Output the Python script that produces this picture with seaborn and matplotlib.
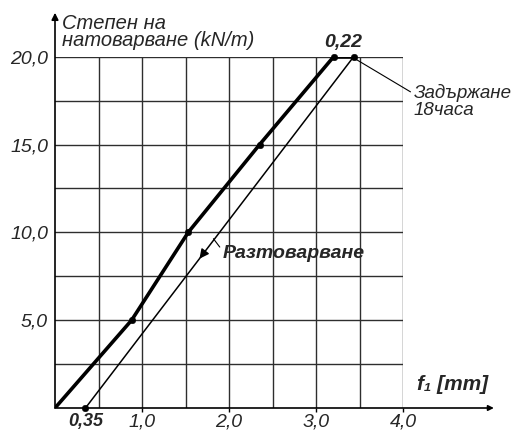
import matplotlib
matplotlib.use("Agg")
import matplotlib.pyplot as plt
import seaborn as sns
import pandas as pd

# loading branch (thick) and unloading branch (thin)
load_f = [0.0, 0.88, 1.53, 2.35, 3.2]
load_p = [0.0, 5.0, 10.0, 15.0, 20.0]
hold_f = [3.2, 3.43]
hold_p = [20.0, 20.0]
unload_f = [3.43, 0.35]
unload_p = [20.0, 0.0]

x_ticks = [1.0, 2.0, 3.0, 4.0]
x_labels = ["1,0", "2,0", "3,0", "4,0"]
y_ticks = [5.0, 10.0, 15.0, 20.0]
y_labels = ["5,0", "10,0", "15,0", "20,0"]


def main():
    sns.set_style("white")
    plt.rcParams["font.family"] = ["Liberation Sans", "DejaVu Sans"]

    fig = plt.figure(figsize=(5.15, 4.3), dpi=100)
    ax = fig.add_axes([55 / 515, 22 / 430, 348.3 / 515, 351.3 / 430])

    # grid
    for gx in [0.5, 1.0, 1.5, 2.0, 2.5, 3.0, 3.5, 4.0]:
        ax.axvline(gx, color="#2e2e2e", lw=1.0, zorder=1)
    for gy in [2.5, 5.0, 7.5, 10.0, 12.5, 15.0, 17.5, 20.0]:
        ax.axhline(gy, color="#2e2e2e", lw=1.0, zorder=1)

    load = pd.DataFrame({"f": load_f, "p": load_p})
    hold = pd.DataFrame({"f": hold_f, "p": hold_p})
    unload = pd.DataFrame({"f": unload_f, "p": unload_p})

    sns.lineplot(data=load, x="f", y="p", sort=False, color="black", lw=2.6, ax=ax, zorder=3)
    sns.lineplot(data=hold, x="f", y="p", sort=False, color="black", lw=2.6, ax=ax, zorder=3)
    sns.lineplot(data=unload, x="f", y="p", sort=False, color="black", lw=1.1, ax=ax, zorder=3)

    dots = pd.DataFrame({
        "f": load_f[1:] + unload_f,
        "p": load_p[1:] + unload_p,
    })
    sns.scatterplot(data=dots, x="f", y="p", color="black", s=22, ax=ax, zorder=4,
                    edgecolor="black", clip_on=False)

    # arrow on unloading line
    fa = unload_f[0] + (unload_f[1] - unload_f[0]) * 0.575
    pa = unload_p[0] + (unload_p[1] - unload_p[0]) * 0.575
    ax.annotate("", xy=(fa, pa), xytext=(fa + 0.04, pa + 0.26),
                arrowprops=dict(arrowstyle="-|>", color="black", lw=1, mutation_scale=14,
                                shrinkA=0, shrinkB=0))

    ax.set_xlim(0, 4.0)
    ax.set_ylim(0, 20.0)
    ax.set_xlabel("")
    ax.set_ylabel("")
    for s in ax.spines.values():
        s.set_visible(False)

    ax.set_xticks(x_ticks, x_labels, fontsize=14, style="italic")
    ax.set_yticks(y_ticks, y_labels, fontsize=14, style="italic")
    ax.tick_params(axis="x", length=3, width=1, color="black", pad=1, direction="out", bottom=True)
    ax.tick_params(axis="y", length=0, pad=5)

    # axis arrows
    ax.annotate("", xy=(1.26, 0), xytext=(0, 0), xycoords="axes fraction",
                arrowprops=dict(arrowstyle="-|>", color="black", lw=1.2, mutation_scale=8,
                                shrinkA=0, shrinkB=0))
    ax.annotate("", xy=(0, 1.125), xytext=(0, 0), xycoords="axes fraction",
                arrowprops=dict(arrowstyle="-|>", color="black", lw=1.2, mutation_scale=10,
                                shrinkA=0, shrinkB=0))

    # texts
    ax.text(0.35, -0.78, "0,35", ha="center", va="center", fontsize=13,
            style="italic", weight="bold")
    ax.text(3.31, 20.35, "0,22", ha="center", va="bottom", fontsize=14,
            style="italic", weight="bold")
    ax.text(0.02, 1.07, "Степен на\nнатоварване (kN/m)", transform=ax.transAxes,
            ha="left", va="center", fontsize=14.5, style="italic", linespacing=0.9)
    ax.text(1.039, 0.066, "f\u2081 [mm]", transform=ax.transAxes, ha="left", va="center",
            fontsize=15, style="italic", weight="bold")

    ax.annotate("Задържане\n18часа", xy=(3.44, 19.9), xytext=(4.12, 17.45),
                ha="left", va="center", fontsize=13.5, style="italic", linespacing=1.0,
                arrowprops=dict(arrowstyle="-", color="black", lw=0.8,
                                shrinkA=0, shrinkB=0, relpos=(0, 0.72)))
    ax.annotate("Разтоварване", xy=(1.81, 9.7), xytext=(1.93, 8.82),
                ha="left", va="center", fontsize=14, style="italic", weight="bold",
                arrowprops=dict(arrowstyle="-", color="black", lw=0.8,
                                shrinkA=0, shrinkB=1, relpos=(0, 0.6)))

    fig.savefig("out.png", dpi=100)


if __name__ == "__main__":
    main()
